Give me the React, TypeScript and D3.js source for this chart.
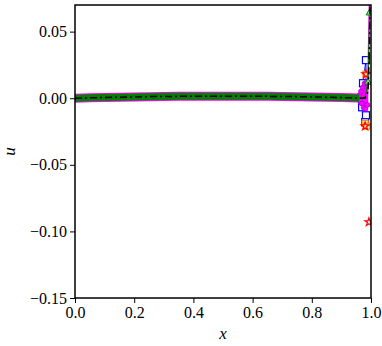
import React, { useEffect, useRef } from 'react';
import * as d3 from 'd3';

// smooth part of the solution (all schemes agree here)
const xBody = [0, 0.05, 0.1, 0.15, 0.2, 0.25, 0.3, 0.35, 0.4, 0.45, 0.5, 0.55, 0.6, 0.65, 0.7, 0.75, 0.8, 0.85, 0.9, 0.93, 0.96];
const uBody = [0, 0.0003, 0.0006, 0.0008, 0.001, 0.0012, 0.0013, 0.0014, 0.0015, 0.0015, 0.0015, 0.0015, 0.0015, 0.0014, 0.0013, 0.0012, 0.001, 0.0008, 0.0005, 0.0003, 0.0001];

// tails near x = 1 for each scheme
const blueX = [0.97, 0.973, 0.983, 0.983, 0.98];
const blueU = [-0.0068, 0.0113, 0.0286, -0.0128, -0.018];
const orangeX = [0.98, 0.983, 0.986];
const orangeU = [-0.0188, 0.018, -0.021];
const redX = [0.98, 0.983, 0.993];
const redU = [-0.021, 0.018, -0.093];
const magentaX = [0.96, 0.963, 0.966, 0.969, 0.972, 0.975, 0.978, 0.981, 0.984, 0.988, 0.992, 0.996];
const magentaU = [0.002, -0.002, 0.005, -0.004, 0.008, -0.007, 0.011, -0.008, 0.012, -0.005, 0.04, 0.09];
const greenX = [0.96, 0.98, 0.99, 0.995, 0.998];
const greenU = [0.0, 0.001, 0.012, 0.064, 0.1];
const exactX = [0.96, 0.98, 0.99, 0.995, 0.998];
const exactU = [0.0, 0.0, 0.005, 0.04, 0.1];

const xTicks = [0, 0.2, 0.4, 0.6, 0.8, 1.0];
const yTicks = [0.05, 0, -0.05, -0.1, -0.15];

const App = () => {
  const ref = useRef<SVGSVGElement>(null);

  useEffect(() => {
    const margin = { top: 5, right: 11, bottom: 48, left: 75 };
    const width = 382 - margin.left - margin.right;
    const height = 346 - margin.top - margin.bottom;

    const x = d3.scaleLinear().domain([0, 1]).range([0, width]);
    const y = d3.scaleLinear().domain([-0.15, 0.07]).range([height, 0]);

    const svg = d3.select(ref.current);
    svg.selectAll('*').remove();
    const g = svg.append('g').attr('transform', `translate(${margin.left},${margin.top})`);

    g.append('clipPath').attr('id', 'clip')
      .append('rect').attr('width', width).attr('height', height);
    const plot = g.append('g').attr('clip-path', 'url(#clip)');

    const line = d3.line<[number, number]>().x(d => x(d[0])).y(d => y(d[1]));
    const body = xBody.map((v, i) => [v, uBody[i]] as [number, number]);
    const pts = (xs: number[], us: number[]) => xs.map((v, i) => [v, us[i]] as [number, number]);
    const last = body[body.length - 1];

    // blue squares with short connectors
    plot.append('path').datum([last, ...pts(blueX, blueU)])
      .attr('d', line).attr('fill', 'none').attr('stroke', '#0000ff').attr('stroke-width', 1);
    plot.selectAll('.sqb').data(pts(blueX, blueU)).enter().append('rect')
      .attr('x', d => x(d[0]) - 3.5).attr('y', d => y(d[1]) - 3.5)
      .attr('width', 7).attr('height', 7)
      .attr('fill', 'white').attr('stroke', '#0000ff').attr('stroke-width', 1.2);
    // orange squares
    plot.selectAll('.sqo').data(pts(orangeX, orangeU)).enter().append('rect')
      .attr('x', d => x(d[0]) - 3).attr('y', d => y(d[1]) - 3)
      .attr('width', 6).attr('height', 6)
      .attr('fill', '#fff3c0').attr('stroke', '#ff8c00').attr('stroke-width', 1.2);
    // red stars
    const star = d3.symbol().type(d3.symbolStar).size(20);
    plot.selectAll('.st').data(pts(redX, redU)).enter().append('path')
      .attr('d', star).attr('transform', d => `translate(${x(d[0])},${y(d[1])})`)
      .attr('fill', 'none').attr('stroke', '#ff0000').attr('stroke-width', 1.2);

    // magenta band + oscillating tail
    plot.append('path').datum(body)
      .attr('d', line).attr('fill', 'none').attr('stroke', '#ff00ff').attr('stroke-width', 9);
    plot.append('path').datum([last, ...pts(magentaX, magentaU)])
      .attr('d', line).attr('fill', 'none').attr('stroke', '#ff00ff').attr('stroke-width', 1.5);
    plot.selectAll('.mc').data(pts(magentaX.slice(0, 10), magentaU.slice(0, 10))).enter().append('circle')
      .attr('cx', d => x(d[0])).attr('cy', d => y(d[1])).attr('r', 2.5)
      .attr('fill', '#ff00ff').attr('stroke', '#9400d3').attr('stroke-width', 0.6);

    // green band
    plot.append('path').datum(body)
      .attr('d', line).attr('fill', 'none').attr('stroke', '#007f00').attr('stroke-width', 7);
    plot.append('path').datum([last, ...pts(greenX, greenU)])
      .attr('d', line).attr('fill', 'none').attr('stroke', '#007f00').attr('stroke-width', 1);
    const tri = d3.symbol().type(d3.symbolTriangle).size(20);
    plot.selectAll('.tr').data(pts(greenX.slice(2, 4), greenU.slice(2, 4))).enter().append('path')
      .attr('d', tri).attr('transform', d => `translate(${x(d[0])},${y(d[1])})`)
      .attr('fill', '#7fdf7f').attr('stroke', '#007f00').attr('stroke-width', 1);

    // exact solution, dash-dot
    plot.append('path').datum(body.concat(pts(exactX, exactU)))
      .attr('d', line).attr('fill', 'none').attr('stroke', 'black')
      .attr('stroke-width', 1.5).attr('stroke-dasharray', '7,3,2,3');

    // frame
    g.append('rect').attr('width', width).attr('height', height)
      .attr('fill', 'none').attr('stroke', 'black').attr('stroke-width', 1.5);

    const font = '"Liberation Serif", "DejaVu Serif", serif';
    const fmtY = (d: number) => (d < 0 ? '\u2212' : '') + Math.abs(d).toFixed(2);

    const yAxis = g.append('g').call(d3.axisLeft(y).tickValues(yTicks).tickSize(5).tickPadding(3).tickFormat(d => fmtY(+d)));
    const xAxis = g.append('g').attr('transform', `translate(0,${height})`)
      .call(d3.axisBottom(x).tickValues(xTicks).tickSize(5).tickPadding(4).tickFormat(d => (+d).toFixed(1)));
    [xAxis, yAxis].forEach(a => {
      a.select('.domain').remove();
      a.selectAll('.tick line').attr('stroke', 'black').attr('stroke-width', 1);
      a.selectAll('.tick text').style('font-family', font).style('font-size', '16px').attr('fill', 'black');
    });

    g.append('text')
      .attr('x', width / 2).attr('y', height + 41)
      .attr('text-anchor', 'middle')
      .style('font-family', font).style('font-style', 'italic').style('font-size', '17px')
      .text('x');

    g.append('text')
      .attr('transform', `translate(${-60},${height / 2}) rotate(-90)`)
      .attr('text-anchor', 'middle')
      .style('font-family', font).style('font-style', 'italic').style('font-size', '17px')
      .text('u');
  }, []);

  return (
    <svg ref={ref} width={382} height={346}
      style={{ position: 'absolute', left: 0, top: 0, background: 'white' }} />
  );
};

export default App;
